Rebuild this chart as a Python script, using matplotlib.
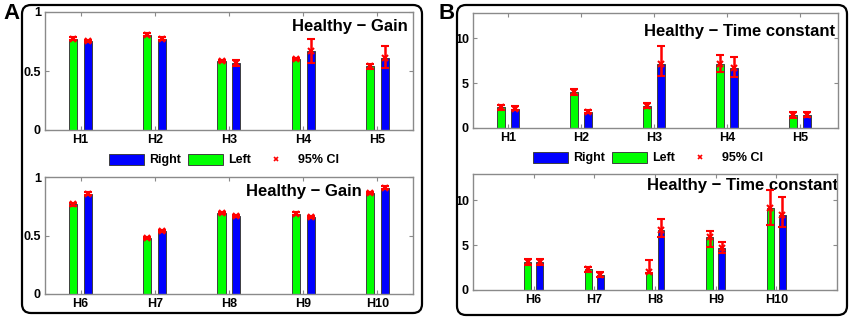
import matplotlib
matplotlib.use("Agg")
import matplotlib.pyplot as plt
from matplotlib.patches import FancyBboxPatch, Patch
from matplotlib.lines import Line2D
import numpy as np

plt.rcParams['font.family'] = ['Liberation Sans', 'DejaVu Sans']
plt.rcParams['font.weight'] = 'bold'

# ---------------- data ----------------
subjects_top = ["H1", "H2", "H3", "H4", "H5"]
subjects_bot = ["H6", "H7", "H8", "H9", "H10"]

gain_left_top = [0.775, 0.808, 0.586, 0.603, 0.540]
gain_left_top_lo = [0.765, 0.798, 0.578, 0.595, 0.520]
gain_left_top_hi = [0.785, 0.818, 0.594, 0.610, 0.560]
gain_right_top = [0.755, 0.775, 0.569, 0.668, 0.607]
gain_right_top_lo = [0.745, 0.765, 0.541, 0.565, 0.523]
gain_right_top_hi = [0.765, 0.785, 0.597, 0.769, 0.712]

gain_left_bot = [0.768, 0.476, 0.694, 0.688, 0.864]
gain_left_bot_lo = [0.756, 0.466, 0.684, 0.678, 0.852]
gain_left_bot_hi = [0.780, 0.486, 0.704, 0.698, 0.876]
gain_right_bot = [0.858, 0.538, 0.669, 0.660, 0.909]
gain_right_bot_lo = [0.846, 0.526, 0.659, 0.650, 0.899]
gain_right_bot_hi = [0.870, 0.550, 0.679, 0.670, 0.919]

tc_left_top = [2.30, 4.04, 2.46, 7.07, 1.47]
tc_left_top_lo = [2.05, 3.68, 2.19, 6.26, 1.10]
tc_left_top_hi = [2.60, 4.34, 2.81, 8.11, 1.76]
tc_right_top = [2.13, 1.81, 7.07, 6.70, 1.47]
tc_right_top_lo = [1.95, 1.65, 5.78, 5.70, 1.20]
tc_right_top_hi = [2.46, 1.95, 9.11, 7.93, 1.76]

tc_left_bot = [3.07, 2.30, 1.96, 5.93, 9.15]
tc_left_bot_lo = [2.80, 2.00, 1.90, 4.74, 7.22]
tc_left_bot_hi = [3.45, 2.60, 3.33, 6.56, 11.10]
tc_right_bot = [3.07, 1.67, 6.67, 4.63, 8.33]
tc_right_bot_lo = [2.78, 1.40, 5.85, 4.15, 7.04]
tc_right_bot_hi = [3.44, 1.96, 7.89, 5.37, 10.37]

GREEN = "#00ff00"
BLUE = "#0000ff"
SPINE = "#8a8a8a"
EDGE = "#404040"

fig = plt.figure(figsize=(8.51, 3.2), dpi=100)

# rounded panel boxes (pixel coords from top-left)
def panel_box(x0, y0, x1, y1):
    box = FancyBboxPatch(((x0) / 100, (320 - y1) / 100), (x1 - x0) / 100, (y1 - y0) / 100,
                         boxstyle="round,pad=0,rounding_size=0.09",
                         transform=fig.dpi_scale_trans, fill=False,
                         edgecolor="black", linewidth=1.6, zorder=0)
    fig.patches.append(box)

panel_box(22, 5, 422, 313)
panel_box(457, 5, 847, 315)

def make_axes(rect, labels, left, llo, lhi, right, rlo, rhi, ylim, yticks, yticklabels,
              xlim, title, tx, ty):
    ax = fig.add_axes(rect)
    x = np.arange(1, len(labels) + 1)
    w = 0.11
    off = 0.1
    ax.bar(x - off, left, width=w, color=GREEN, edgecolor=EDGE, linewidth=0.7, zorder=2)
    ax.bar(x + off, right, width=w, color=BLUE, edgecolor=EDGE, linewidth=0.7, zorder=2)
    for xs, m, lo, hi in ((x - off, left, llo, lhi), (x + off, right, rlo, rhi)):
        m = np.array(m); lo = np.array(lo); hi = np.array(hi)
        ax.errorbar(xs, m, yerr=[m - lo, hi - m], fmt='x', color='red', ecolor='red',
                    elinewidth=1.8, capsize=2.6, capthick=1.8, markersize=4,
                    markeredgewidth=1.5, zorder=3)
    ax.set_xlim(*xlim)
    ax.set_ylim(*ylim)
    ax.set_xticks(x)
    ax.set_xticklabels(labels, fontsize=9, fontweight='bold')
    ax.set_yticks(yticks)
    ax.set_yticklabels(yticklabels, fontsize=9, fontweight='bold')
    ax.tick_params(direction='in', length=3, width=0.8, color=SPINE,
                   top=True, right=True, pad=3)
    for s in ax.spines.values():
        s.set_color(SPINE)
        s.set_linewidth(1.0)
    ax.text(tx, ty, title, transform=ax.transAxes, ha='right', va='center',
            fontsize=12, fontweight='bold', zorder=1, clip_on=False)
    return ax

make_axes([45 / 851, 1 - 130 / 320, 368 / 851, 118 / 320], subjects_top,
          gain_left_top, gain_left_top_lo, gain_left_top_hi,
          gain_right_top, gain_right_top_lo, gain_right_top_hi,
          (0, 1), [0, 0.5, 1], ["0", "0.5", "1"], (0.52, 5.48),
          "Healthy \u2212 Gain", 0.986, 0.873)
make_axes([45 / 851, 1 - 294 / 320, 368 / 851, 117 / 320], subjects_bot,
          gain_left_bot, gain_left_bot_lo, gain_left_bot_hi,
          gain_right_bot, gain_right_bot_lo, gain_right_bot_hi,
          (0, 1), [0, 0.5, 1], ["0", "0.5", "1"], (0.52, 5.48),
          "Healthy \u2212 Gain", 0.861, 0.872)
make_axes([473 / 851, 1 - 128 / 320, 365 / 851, 115 / 320], subjects_top,
          tc_left_top, tc_left_top_lo, tc_left_top_hi,
          tc_right_top, tc_right_top_lo, tc_right_top_hi,
          (0, 12.8), [0, 5, 10], ["0", "5", "10"], (0.52, 5.52),
          "Healthy \u2212 Time constant", 0.992, 0.843)
make_axes([473 / 851, 1 - 290 / 320, 364 / 851, 116 / 320], subjects_bot,
          tc_left_bot, tc_left_bot_lo, tc_left_bot_hi,
          tc_right_bot, tc_right_bot_lo, tc_right_bot_hi,
          (0, 12.9), [0, 5, 10], ["0", "5", "10"], (0.0, 6.0),
          "Healthy \u2212 Time constant", 1.003, 0.897)

handles = [Patch(facecolor=BLUE, edgecolor=EDGE, linewidth=0.7),
           Patch(facecolor=GREEN, edgecolor=EDGE, linewidth=0.7),
           Line2D([], [], linestyle='none', marker='x', color='red',
                  markersize=3.5, markeredgewidth=1.2)]
names = ["Right", "Left", "95% CI"]
for cx, cy in ((224 / 851, 1 - 160 / 320), (648 / 851, 1 - 158 / 320)):
    fig.legend(handles, names, loc='center', bbox_to_anchor=(cx, cy), ncol=3,
               frameon=False, prop={'size': 9, 'weight': 'bold'},
               handlelength=2.8, handleheight=1.0, handletextpad=0.4,
               columnspacing=0.6, borderpad=0, borderaxespad=0)

fig.text(3 / 851, 1 - 3 / 320, "A", fontsize=16, fontweight='bold', ha='left', va='top')
fig.text(438 / 851, 1 - 3 / 320, "B", fontsize=16, fontweight='bold', ha='left', va='top')

fig.savefig("out.png", dpi=100, facecolor='white')
